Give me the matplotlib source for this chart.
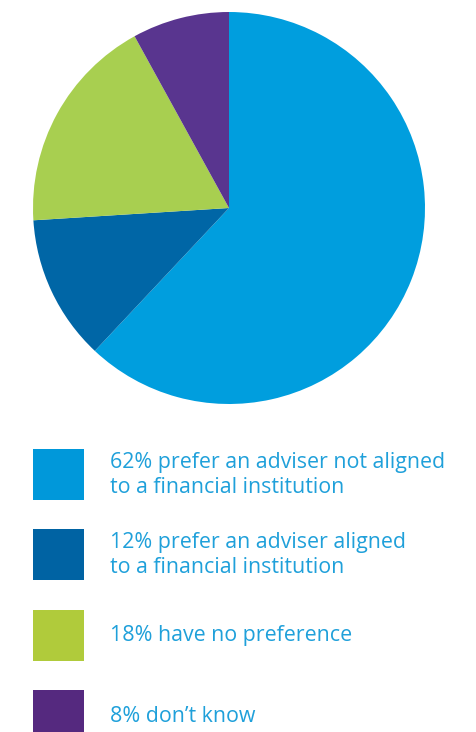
import matplotlib
matplotlib.use("Agg")
import matplotlib.pyplot as plt
from matplotlib.patches import Rectangle

# Data
labels = [
    "62% prefer an adviser not aligned\nto a financial institution",
    "12% prefer an adviser aligned\nto a financial institution",
    "18% have no preference",
    "8% don\u2019t know",
]
shares = [62, 12, 18, 8]
pie_colors = ["#009EDE", "#0066A6", "#A8CF50", "#59358F"]
legend_colors = ["#0098DA", "#0063A3", "#B0CB3B", "#55297F"]
text_color = "#1FA0DA"

W, H = 477, 732
fig = plt.figure(figsize=(W / 100, H / 100), dpi=100)

# Pie: centre ~ (229, 208) px, radius ~196 px
ax = fig.add_axes([33 / W, 1 - 404 / H, 392 / W, 392 / H])
ax.pie(shares, colors=pie_colors, startangle=90, counterclock=False,
       radius=1, wedgeprops=dict(linewidth=0))
ax.set_xlim(-1, 1)
ax.set_ylim(-1, 1)
ax.set_aspect("equal")
ax.axis("off")

# Legend: square boxes with labels to the right
box_tops = [449, 529, 610, 690]
for i, (lab, col) in enumerate(zip(labels, legend_colors)):
    top = box_tops[i]
    fig.patches.append(Rectangle((33 / W, 1 - (top + 51) / H), 51 / W, 51 / H,
                                 transform=fig.transFigure, facecolor=col,
                                 edgecolor="none"))
    fig.text(110 / W, 1 - (top + 26) / H, lab, color=text_color,
             fontsize=15.4, family="Open Sans", va="center", ha="left",
             linespacing=1.25)

fig.savefig("out.png", dpi=100)
